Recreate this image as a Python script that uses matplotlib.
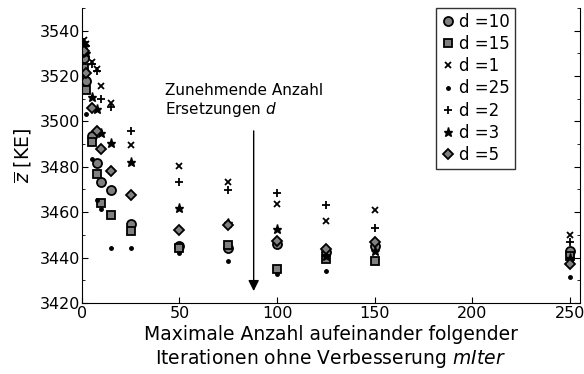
import numpy as np
import matplotlib
matplotlib.use("Agg")
import matplotlib.pyplot as plt
from matplotlib.ticker import MultipleLocator

nan = np.nan

# mIter values
x = [1, 2, 5, 8, 10, 15, 25, 50, 75, 100, 125, 150, 250]

# mean objective value per number of replacements d
d10 = [3527.8, 3517.9, 3493.6, 3481.5, 3473.4, 3469.9, 3454.9, 3445.2, 3444.2, 3446.0, 3442.3, 3445.2, 3443.0]
d15 = [3523.5, 3514.0, 3490.8, 3476.8, 3464.1, 3458.8, 3451.7, 3444.2, 3445.5, 3435.0, 3439.4, 3438.6, 3440.5]
d1 = [3536.0, 3534.0, 3526.0, 3523.1, 3515.5, 3508.1, 3489.7, 3480.5, 3473.3, 3463.6, 3456.3, 3461.1, 3450.0]
d25 = [nan, 3503.3, 3483.4, 3465.5, 3461.4, 3444.2, 3444.1, 3442.0, 3438.6, 3432.8, 3434.2, nan, 3431.3]
d2 = [3535.0, 3533.0, 3525.3, 3522.2, 3509.9, 3506.3, 3495.6, 3473.3, 3469.7, 3468.5, 3463.0, 3452.9, 3447.0]
d3 = [3533.7, 3530.0, 3510.6, 3505.5, 3494.8, 3490.5, 3482.1, 3461.8, 3455.0, 3452.6, 3440.8, 3443.0, 3440.0]
d5 = [3531.1, 3521.3, 3505.9, 3495.9, 3487.8, 3478.0, 3467.7, 3452.0, 3454.4, 3447.4, 3443.8, 3446.7, 3437.2]

grey = "#808080"

fig = plt.figure(figsize=(5.84, 3.74), dpi=100)
ax = fig.add_axes([0.140, 0.190, 0.853, 0.789])

ax.plot(x, d10, "o", color=grey, mec="k", mew=1.3, ms=6.5, label="d =10")
ax.plot(x, d15, "s", color=grey, mec="k", mew=1.3, ms=5.5, label="d =15")
ax.plot(x, d1, "x", color="k", mew=1.3, ms=4, label="d =1")
ax.plot(x, d25, ".", color="k", ms=5, label="d =25")
ax.plot(x, d2, "+", color="k", mew=1.3, ms=6, label="d =2")
ax.plot(x, d3, "*", color="k", mec="k", ms=6.5, label="d =3")
ax.plot(x, d5, "D", color=grey, mec="k", mew=1.3, ms=5, label="d =5")

ax.annotate("", xy=(88, 3424), xytext=(88, 3497),
            arrowprops=dict(arrowstyle="-|>", color="k", lw=1, mutation_scale=16))
ax.text(42.5, 3509, "Zunehmende Anzahl\nErsetzungen $d$", fontsize=11,
        ha="left", va="center", linespacing=1.2)

ax.set_xlim(0, 255)
ax.set_ylim(3420, 3550)
ax.xaxis.set_major_locator(MultipleLocator(50))
ax.yaxis.set_major_locator(MultipleLocator(20))
ax.yaxis.set_minor_locator(MultipleLocator(10))
ax.spines["top"].set_visible(False)
ax.tick_params(axis="y", which="both", direction="in", left=True, right=True, pad=1, labelsize=11.5)
ax.tick_params(axis="y", which="major", length=4)
ax.tick_params(axis="y", which="minor", length=2.5)
ax.tick_params(axis="x", which="both", direction="in", top=False, pad=2, labelsize=11.5, length=4)

ax.set_xlabel("Maximale Anzahl aufeinander folgender\nIterationen ohne Verbesserung $mIter$",
              fontsize=13.5, labelpad=3)
ax.set_ylabel(r"$\overline{z}$ [KE]", fontsize=13.5, labelpad=4)

leg = ax.legend(loc="upper right", bbox_to_anchor=(0.87, 1.0), numpoints=1, fontsize=12,
                handlelength=0.8, handletextpad=0.3, borderpad=0.3, labelspacing=0.25,
                fancybox=False, frameon=True, borderaxespad=0.0)
leg.get_frame().set_edgecolor("k")
leg.get_frame().set_linewidth(1)

fig.savefig("out.png", dpi=100)
